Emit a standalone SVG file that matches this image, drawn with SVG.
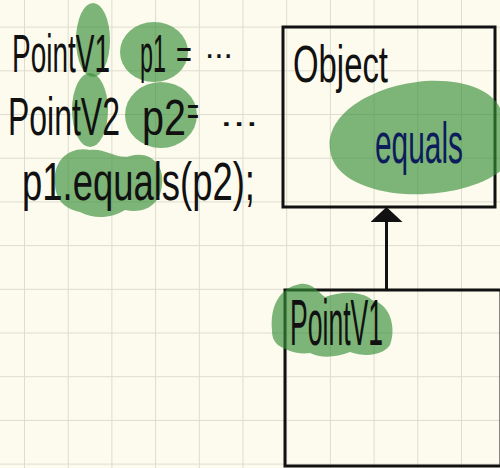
<svg xmlns="http://www.w3.org/2000/svg" width="500" height="468" viewBox="0 0 500 468">
<style>
.ink{font-family:"Liberation Sans","DejaVu Sans",sans-serif;fill:#111}
.navy{fill:#0c1c5c}
.hl{fill:#388f37;fill-opacity:0.65}
.box{fill:none;stroke:#111;stroke-width:3}
.edge{stroke:#111;stroke-width:3;fill:none}
</style>
<defs>
<pattern id="grid" x="24" y="26.6" width="43.7" height="43.7" patternUnits="userSpaceOnUse">
<path d="M0,0 H43.7 M0,0 V43.7" stroke="#dedcce" stroke-width="2" fill="none"/>
</pattern>
<marker id="tri" viewBox="0 0 15 32" refX="0" refY="16" markerWidth="15" markerHeight="32" markerUnits="userSpaceOnUse" orient="auto">
<path d="M0,0 L15,16 L0,32 Z" fill="#111"/>
</marker>
</defs>
<rect width="500" height="468" fill="#fdfbee"/>
<rect width="500" height="468" fill="url(#grid)"/>

<g id="code">
<ellipse class="hl" cx="93" cy="40" rx="17" ry="37"/>
<ellipse class="hl" cx="90" cy="110" rx="18" ry="37"/>
<ellipse class="hl" cx="154" cy="52" rx="34" ry="30"/>
<ellipse class="hl" cx="161" cy="115" rx="36" ry="33"/>
<path class="hl" d="M55,185 C52,160 70,146 90,150 C105,148 118,160 130,156 C150,150 165,165 162,185 C160,205 145,214 125,210 C112,218 95,220 80,212 C62,208 56,198 55,185 Z"/>
<text class="ink" font-size="54" transform="translate(12,72) scale(0.518,1)">PointV1</text>
<text class="ink" font-size="54" transform="translate(140,72) scale(0.433,1)">p1</text>
<text class="ink" font-size="40" transform="translate(176,68) scale(0.68,1)">=</text>
<text class="ink" font-size="36" transform="translate(205,58) scale(0.93,1)">...</text>
<text class="ink" font-size="54" transform="translate(8,135) scale(0.592,1)">PointV2</text>
<text class="ink" font-size="50" transform="translate(142,135) scale(0.79,1)">p2</text>
<text class="ink" font-size="40" transform="translate(187,125) scale(0.51,1)">=</text>
<text class="ink" font-size="36" transform="translate(220,126) scale(1.27,1)">...</text>
<text class="ink" font-size="54" transform="translate(22,200) scale(0.675,1)">p1.equals(p2);</text>
</g>

<g id="object">
<rect class="box" x="283" y="27" width="212" height="180"/>
<path class="hl" d="M330,150 C325,115 370,86 425,81 C470,78 500,95 502,115 L502,170 C480,188 440,196 405,194 C370,192 333,178 330,150 Z"/>
<text class="ink" font-size="52" transform="translate(293,82) scale(0.632,1)">Object</text>
<text class="ink navy" font-size="58" transform="translate(375,163) scale(0.515,1)">equals</text>
</g>

<g id="pointv1">
<rect class="box" x="285" y="290" width="216" height="176"/>
<path class="hl" d="M272,330 C270,305 280,288 300,284 C312,282 318,292 325,297 C340,292 360,290 372,300 C392,305 396,330 390,345 C382,356 365,357 350,352 C335,358 320,358 310,353 C298,355 285,350 278,345 C273,340 272,336 272,330 Z"/>
<text class="ink" font-size="64" transform="translate(290,345) scale(0.415,1)">PointV1</text>
</g>

<g id="connectors">
<line class="edge" x1="386.5" y1="290" x2="386.5" y2="222" marker-end="url(#tri)"/>
</g>
</svg>
